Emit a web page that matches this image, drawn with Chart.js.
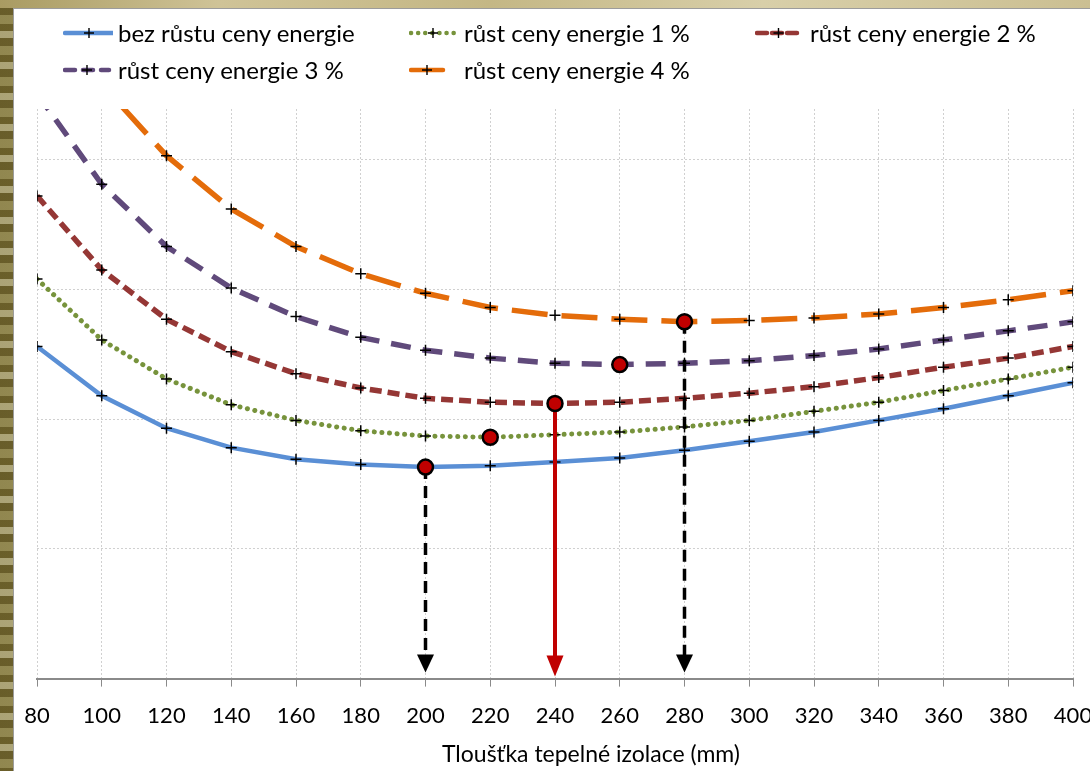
<!DOCTYPE html>
<html>
<head>
<meta charset="utf-8">
<script src="https://cdn.jsdelivr.net/npm/chart.js@4.4.1/dist/chart.umd.min.js"></script>
<style>
  html, body { margin: 0; padding: 0; width: 1090px; height: 771px; overflow: hidden; }
  body {
    position: relative;
    background:
      repeating-linear-gradient(180deg, rgba(255,255,235,0.35) 0 7px, rgba(40,30,0,0.25) 7px 15px, rgba(255,255,220,0.15) 15px 24px, rgba(60,50,10,0.3) 24px 31px),
      linear-gradient(90deg, #7e7237, #b0a46c 45%, #857940);
  }
  #topStrip {
    position: absolute; left: 0; top: 0; width: 1090px; height: 8px;
    background: linear-gradient(90deg, #a99b62, #cfc397 20%, #c4b785 45%, #d8cfa9 70%, #cbbf92);
  }
  #panel {
    position: absolute; left: 13px; top: 8px; width: 1077px; height: 763px;
    background: #fff; border-left: 1px solid #9c9c9c; border-top: 1px solid #9c9c9c;
    box-sizing: border-box;
  }
  #wrap { position: absolute; left: 0; top: 0; width: 1077px; height: 763px; }
  #legend {
    position: absolute; left: 49px; top: 5px;
    display: grid; grid-template-columns: 346px 346px 346px; grid-auto-rows: 37px;
    font-family: Lato, "Open Sans", sans-serif; font-size: 24px; color: #000;
  }
  .item { display: flex; align-items: center; white-space: nowrap; }
  .item svg { flex: none; margin-right: 5px; }
  #xTitle {
    position: absolute; left: 0; width: 1154px; top: 729px; text-align: center;
    font-family: Lato, "Open Sans", sans-serif; font-size: 23px; line-height: 30px; color: #000;
  }
</style>
</head>
<body>
<div id="topStrip"></div>
<div id="panel">
  <div id="wrap"><canvas id="chart"></canvas></div>
  <div id="legend"></div>
  <div id="xTitle"></div>
</div>
<script>
// tloušťka izolace (mm)
const thickness = [80, 100, 120, 140, 160, 180, 200, 220, 240, 260, 280, 300, 320, 340, 360, 380, 400];

// odečtené hodnoty (bez popisů osy y)
const bezRustu = [25.6, 21.8, 19.3, 17.8, 16.9, 16.5, 16.3, 16.4, 16.7, 17.0, 17.6, 18.3, 19.0, 19.9, 20.8, 21.8, 22.8];
const rust1 = [30.8, 26.1, 23.1, 21.1, 19.9, 19.1, 18.7, 18.6, 18.8, 19.0, 19.4, 19.9, 20.6, 21.3, 22.2, 23.1, 24.0];
const rust2 = [37.2, 31.5, 27.7, 25.2, 23.5, 22.4, 21.6, 21.3, 21.2, 21.3, 21.6, 22.0, 22.5, 23.2, 24.0, 24.7, 25.6];
const rust3 = [45.1, 38.1, 33.3, 30.1, 27.9, 26.3, 25.3, 24.7, 24.3, 24.2, 24.3, 24.5, 24.9, 25.4, 26.1, 26.8, 27.5];
const rust4 = [53.5, 45.8, 40.3, 36.2, 33.3, 31.2, 29.7, 28.6, 28.0, 27.7, 27.5, 27.6, 27.8, 28.1, 28.6, 29.2, 29.9];

const seriesNames = ['bez růstu ceny energie', 'růst ceny energie 1 %', 'růst ceny energie 2 %', 'růst ceny energie 3 %', 'růst ceny energie 4 %'];
const seriesValues = [bezRustu, rust1, rust2, rust3, rust4];

// optimum každé křivky
const optimumX = [200, 220, 240, 260, 280];
const arrowX = [200, 240, 280];

const xTitle = 'Tloušťka tepelné izolace (mm)';

const styles = [
  { color: '#5a8fd5', dash: [], cap: 'butt', width: 4.5, legendDash: '', legendLen: 48 },
  { color: '#77933c', dash: [0.1, 7.5], cap: 'round', width: 5, legendDash: '0.1 7', legendLen: 44 },
  { color: '#953735', dash: [12, 6], cap: 'butt', width: 5.5, legendDash: '10 5', legendLen: 43 },
  { color: '#604a7b', dash: [20, 12], cap: 'butt', width: 5.5, legendDash: '10 8', legendLen: 44 },
  { color: '#e46c0a', dash: [36, 14], cap: 'butt', width: 5.5, legendDash: '', legendLen: 32 }
];
const arrowStyles = {
  200: { color: '#000', width: 3.5, dash: [12, 7], headW: 17, headH: 18, gap: 6 },
  240: { color: '#c00000', width: 4, dash: [], headW: 17, headH: 21, gap: 2 },
  280: { color: '#000', width: 3.5, dash: [12, 7], headW: 17, headH: 18, gap: 6 }
};

function valueAt(series, x) { return series[thickness.indexOf(x)]; }

const datasets = seriesNames.map((name, i) => ({
  type: 'line',
  label: name,
  data: thickness.map((x, j) => ({ x: x, y: seriesValues[i][j] })),
  borderColor: styles[i].color,
  borderWidth: styles[i].width,
  borderDash: styles[i].dash,
  borderCapStyle: styles[i].cap,
  tension: 0,
  fill: false,
  pointStyle: 'cross',
  pointRadius: 5.5,
  pointBorderColor: '#000',
  pointBorderWidth: 1.5,
  pointBackgroundColor: '#000',
  order: 5 - i
}));

datasets.push({
  type: 'scatter',
  label: 'optimum',
  data: optimumX.map((x, i) => ({ x: x, y: valueAt(seriesValues[i], x) })),
  pointRadius: 7.5,
  pointBorderWidth: 2.5,
  pointBorderColor: '#000',
  pointBackgroundColor: '#c00000',
  order: 0
});

const optimumArrows = {
  id: 'optimumArrows',
  beforeDatasetDraw(chart, args) {
    if (args.index !== 5) return;
    const ctx = chart.ctx, xs = chart.scales.x, ys = chart.scales.y;
    const base = ys.getPixelForValue(0);
    arrowX.forEach(xv => {
      const st = arrowStyles[xv];
      const si = optimumX.indexOf(xv);
      const px = xs.getPixelForValue(xv);
      const py = ys.getPixelForValue(valueAt(seriesValues[si], xv));
      const tip = base - st.gap;
      ctx.save();
      ctx.strokeStyle = st.color;
      ctx.lineWidth = st.width;
      ctx.setLineDash(st.dash);
      ctx.beginPath();
      ctx.moveTo(px, py);
      ctx.lineTo(px, tip - st.headH + 1);
      ctx.stroke();
      ctx.setLineDash([]);
      ctx.fillStyle = st.color;
      ctx.beginPath();
      ctx.moveTo(px - st.headW / 2, tip - st.headH);
      ctx.lineTo(px + st.headW / 2, tip - st.headH);
      ctx.lineTo(px, tip);
      ctx.closePath();
      ctx.fill();
      ctx.restore();
    });
  }
};

const chart = new Chart(document.getElementById('chart'), {
  data: { datasets: datasets },
  plugins: [optimumArrows],
  options: {
    responsive: true,
    maintainAspectRatio: false,
    animation: false,
    layout: { padding: { top: 100, left: 23, right: 18, bottom: 27 } },
    plugins: { legend: { display: false }, tooltip: { enabled: false } },
    scales: {
      x: {
        type: 'linear',
        min: 80,
        max: 400,
        afterFit: scale => { scale.paddingLeft = 0; scale.paddingRight = 0; },
        ticks: { stepSize: 20, color: '#000', padding: 16, font: { family: 'Lato', size: 22 } },
        grid: { color: '#d0d0d0', tickLength: 8, tickColor: '#8a8a8a', tickBorderDash: [0, 0] },
        border: { display: true, color: '#8a8a8a', width: 2, dash: [2, 2] }
      },
      y: {
        min: 0,
        max: 43.9,
        afterBuildTicks: axis => { axis.ticks = axis.ticks.filter(t => t.value % 10 === 0 && t.value > 0); },
        ticks: { display: false, stepSize: 10 },
        grid: { color: '#d0d0d0', drawTicks: false },
        border: { display: false, dash: [2, 2] }
      }
    }
  }
});

document.getElementById('xTitle').textContent = xTitle;

// legenda
const legend = document.getElementById('legend');
seriesNames.forEach((name, i) => {
  const st = styles[i];
  const len = st.legendLen;
  const mid = len / 2 + 2;
  const dash = st.legendDash ? ' stroke-dasharray="' + st.legendDash + '"' : '';
  const item = document.createElement('div');
  item.className = 'item';
  item.innerHTML =
    '<svg width="50" height="14" viewBox="0 0 50 14">' +
    '<line x1="2" y1="7" x2="' + (len + 2) + '" y2="7" stroke="' + st.color + '" stroke-width="4.5" stroke-linecap="round"' + dash + '/>' +
    '<path d="M' + (mid - 5) + ' 7h10M' + mid + ' 2v10" stroke="#000" stroke-width="1.4"/>' +
    '</svg><span>' + name + '</span>';
  legend.appendChild(item);
});
</script>
</body>
</html>
